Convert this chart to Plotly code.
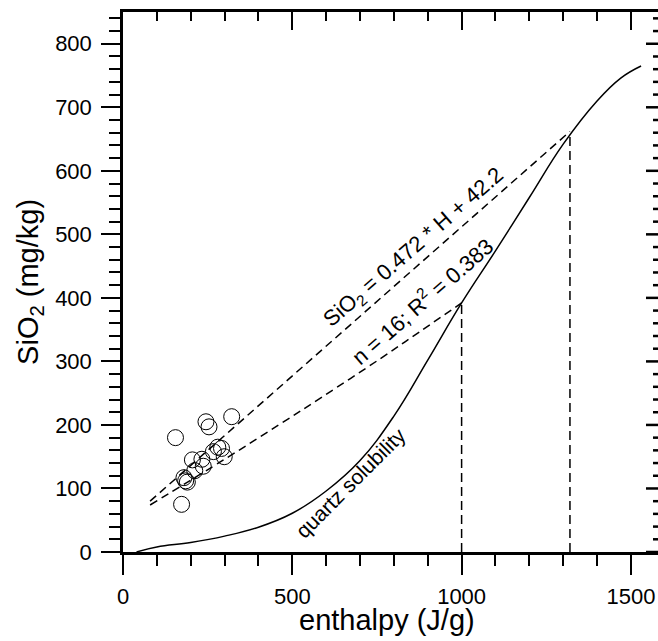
import plotly.graph_objects as go

# quartz solubility curve (enthalpy J/g, SiO2 mg/kg)
quartz_h = [40, 100, 200, 300, 400, 500, 600, 700, 800, 900, 1000, 1100, 1200, 1300, 1400, 1470, 1530]
quartz_si = [0, 8, 15, 25, 39, 61, 96, 144, 214, 302, 392, 474, 558, 642, 710, 746, 765]

# samples
sample_h = [155, 245, 254, 321, 173, 205, 233, 237, 212, 267, 280, 291, 299, 180, 185, 190]
sample_si = [180, 205, 197, 213, 75, 145, 146, 135, 128, 158, 165, 163, 150, 117, 112, 110]

# regression line SiO2 = 0.472*H + 42.2
reg_h = [80, 1320]
reg_si = [80, 662]

# lower mixing line
mix_h = [80, 300, 463, 591, 759, 877, 1000]
mix_si = [74, 146, 201, 245, 304, 347, 392]

# vertical drop lines
drop_h = [1000, 1320]
drop_si = [392, 660]

# right-hand axis tick values (major every 100, minor every 20)
right_ticks = list(range(0, 851, 20))

FONT = "Liberation Sans, Arial, sans-serif"
fig = go.Figure()

fig.add_trace(go.Scatter(x=quartz_h, y=quartz_si, mode="lines",
                         line=dict(color="black", width=1.5, shape="spline", smoothing=1.2),
                         showlegend=False))
fig.add_trace(go.Scatter(x=reg_h, y=reg_si, mode="lines",
                         line=dict(color="black", width=1.5, dash="8px,5px"), showlegend=False))
fig.add_trace(go.Scatter(x=mix_h, y=mix_si, mode="lines",
                         line=dict(color="black", width=1.5, dash="8px,5px", shape="spline", smoothing=1.0),
                         showlegend=False))
for h, s in zip(drop_h, drop_si):
    fig.add_trace(go.Scatter(x=[h, h], y=[0, s], mode="lines",
                             line=dict(color="black", width=1.5, dash="9px,5px"), showlegend=False))
fig.add_trace(go.Scatter(x=sample_h, y=sample_si, mode="markers",
                         marker=dict(symbol="circle-open", size=16, color="black", line=dict(width=1)),
                         showlegend=False))
# invisible trace to activate the top axis
fig.add_trace(go.Scatter(x=[0], y=[0], xaxis="x2", yaxis="y", mode="markers",
                         marker=dict(opacity=0), showlegend=False, hoverinfo="skip"))

XR = [0, 1580]
YR = [0, 850]

fig.update_layout(
    width=658, height=641,
    margin=dict(l=123, r=0, t=12, b=89),
    paper_bgcolor="white", plot_bgcolor="white",
    font=dict(family=FONT, color="black"),
    xaxis=dict(range=XR, showgrid=False, zeroline=False, showline=True, linewidth=2.5, linecolor="black",
               ticks="outside", ticklen=20, tickwidth=2, tickcolor="black", dtick=500, tick0=0,
               tickfont=dict(size=22, family=FONT), automargin=False, ticklabelstandoff=3,
               minor=dict(dtick=100, ticklen=11, tickwidth=2, ticks="outside", tickcolor="black", showgrid=False)),
    yaxis=dict(range=YR, showgrid=False, zeroline=False, showline=True, linewidth=2.5, linecolor="black",
               ticks="outside", ticklen=19, tickwidth=2, tickcolor="black", dtick=100, tick0=0,
               tickfont=dict(size=22, family=FONT), automargin=False, ticklabelstandoff=5,
               minor=dict(dtick=20, ticklen=11, tickwidth=2, ticks="outside", tickcolor="black", showgrid=False)),
    xaxis2=dict(range=XR, overlaying="x", side="top", anchor="y", showgrid=False, zeroline=False,
                showline=True, linewidth=2.5, linecolor="black", ticks="inside", ticklen=18, tickwidth=2,
                tickcolor="black", dtick=500, tick0=0, showticklabels=False, automargin=False,
                minor=dict(dtick=100, ticklen=9, tickwidth=2, ticks="inside", tickcolor="black", showgrid=False)),
)

# right-hand inside ticks (axis line itself lies just beyond the frame)
plot_w = 658 - 123
for v in right_ticks:
    L = 12 if v % 100 == 0 else 5
    fig.add_shape(type="line", xref="paper", yref="y", x0=1 - L / plot_w, x1=1.0, y0=v, y1=v,
                  line=dict(color="black", width=2.5), layer="above")

# axis titles
fig.add_annotation(x=0.4935, y=-0.126, xref="paper", yref="paper", text="enthalpy (J/g)",
                   showarrow=False, xanchor="center", yanchor="middle",
                   font=dict(size=29, family=FONT, color="black"))
fig.add_annotation(x=-0.174, y=0.5, xref="paper", yref="paper", text="SiO<sub>2</sub> (mg/kg)",
                   showarrow=False, textangle=-90, xanchor="center", yanchor="middle",
                   font=dict(size=29, family=FONT, color="black"))

fig.add_annotation(x=859, y=479, xref="x", yref="y", text="SiO<sub>2</sub> = 0.472 * H + 42.2",
                   textangle=-41, showarrow=False, font=dict(size=22, family=FONT, color="black"))
fig.add_annotation(x=883, y=397, xref="x", yref="y", text="n = 16; R<sup>2</sup> = 0.383",
                   textangle=-41, showarrow=False, font=dict(size=22, family=FONT, color="black"))
fig.add_annotation(x=673, y=109, xref="x", yref="y", text="quartz solubility",
                   textangle=-45, showarrow=False, font=dict(size=21, family=FONT, color="black"))

fig.write_html("out.html", config={"displayModeBar": False},
               post_script="document.body.style.margin='0';document.body.style.overflow='hidden';")
